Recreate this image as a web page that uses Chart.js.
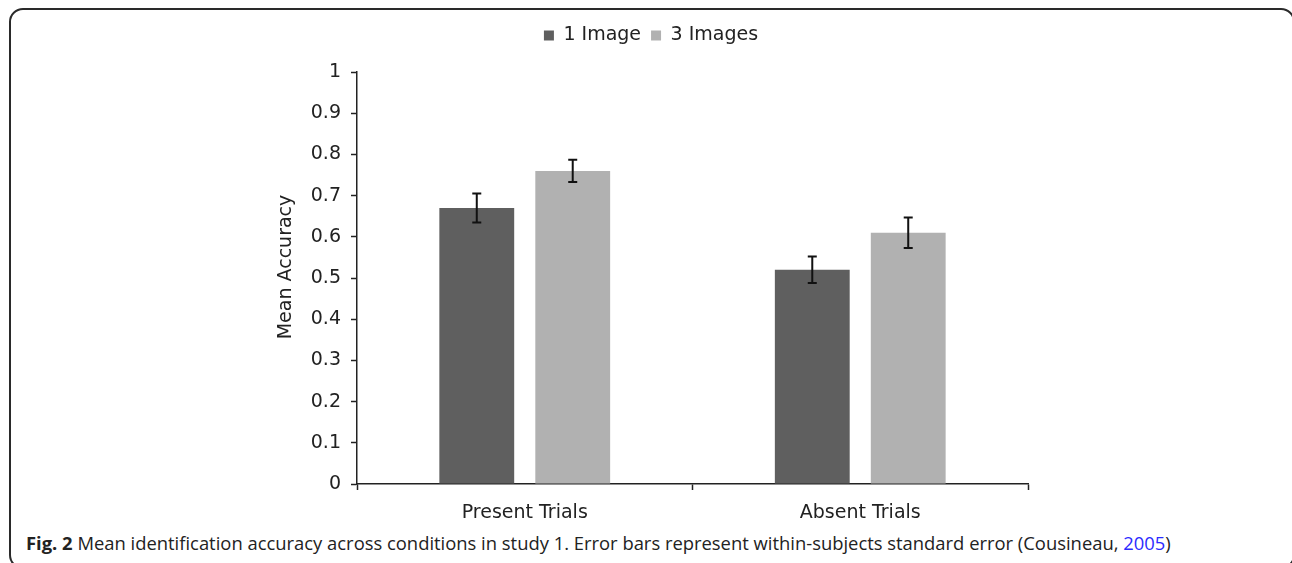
<!DOCTYPE html>
<html>
<head>
<meta charset="utf-8">
<script src="https://cdn.jsdelivr.net/npm/chart.js@4.4.1/dist/chart.umd.min.js"></script>
<style>
  html, body { margin: 0; padding: 0; background: #fff; width: 1292px; height: 563px; overflow: hidden; }
  #frame {
    position: absolute; left: 9px; top: 8px; width: 1282px; height: 557px;
    border: 2px solid #2a2a2a; border-radius: 14px; box-sizing: content-box;
  }
  #wrap { position: absolute; left: 10px; top: 10px; width: 1282px; height: 520px; }
  #caption {
    position: absolute; left: 26px; top: 530px; white-space: nowrap;
    font-family: "Open Sans", sans-serif; font-size: 18.4px; color: #222;
  }
  #caption b { font-weight: 700; }
  #caption .ref { color: #2b2bff; }
</style>
</head>
<body>
<div id="frame"></div>
<div id="wrap"><canvas id="chart"></canvas></div>
<div id="caption"><b>Fig. 2</b> Mean identification accuracy across conditions in study 1. Error bars represent within-subjects standard error (Cousineau, <span class="ref">2005</span>)</div>
<script>
// Trial types and mean accuracy per display condition
const categories = ["Present Trials", "Absent Trials"];
const oneImage = [0.67, 0.52];
const threeImages = [0.76, 0.61];
// Within-subjects standard errors
const oneImageSE = [0.035, 0.032];
const threeImagesSE = [0.027, 0.037];
const yTicks = [0, 0.1, 0.2, 0.3, 0.4, 0.5, 0.6, 0.7, 0.8, 0.9, 1];
const yTitle = "Mean Accuracy";

const FONT = "'DejaVu Sans', Verdana, sans-serif";
const FSIZE = 19;

// Draws a vertical error bar with caps over every bar
const errorBars = {
  id: 'errorBars',
  afterDatasetsDraw(chart) {
    const ctx = chart.ctx;
    const y = chart.scales.y;
    ctx.save();
    ctx.strokeStyle = '#111';
    ctx.lineWidth = 2;
    chart.data.datasets.forEach((ds, di) => {
      const meta = chart.getDatasetMeta(di);
      meta.data.forEach((bar, i) => {
        const v = ds.data[i], e = ds.errors[i];
        const top = y.getPixelForValue(v + e);
        const bot = y.getPixelForValue(v - e);
        const cap = 4.5;
        ctx.beginPath();
        ctx.moveTo(bar.x, top); ctx.lineTo(bar.x, bot);
        ctx.moveTo(bar.x - cap, top); ctx.lineTo(bar.x + cap, top);
        ctx.moveTo(bar.x - cap, bot); ctx.lineTo(bar.x + cap, bot);
        ctx.stroke();
      });
    });
    ctx.restore();
  }
};

// Vertical axis title, set a little above the plot's middle
const axisTitle = {
  id: 'axisTitle',
  afterDraw(chart) {
    const { ctx, chartArea, scales } = chart;
    const x = scales.y.left + 12;
    const y = (chartArea.top + chartArea.bottom) / 2 - 11;
    ctx.save();
    ctx.translate(x, y);
    ctx.rotate(-Math.PI / 2);
    ctx.font = `${FSIZE}px ${FONT}`;
    ctx.fillStyle = '#222';
    ctx.textAlign = 'center';
    ctx.textBaseline = 'middle';
    ctx.fillText(yTitle, 0, 0);
    ctx.restore();
  }
};

// Adds space between the legend and the plot
const legendGap = {
  id: 'legendGap',
  beforeInit(chart) {
    const fit = chart.legend.fit;
    chart.legend.fit = function () {
      fit.bind(chart.legend)();
      this.height += 17;
    };
  }
};

new Chart(document.getElementById('chart'), {
  type: 'bar',
  data: {
    labels: categories,
    datasets: [
      { label: '1 Image', data: oneImage, errors: oneImageSE, backgroundColor: '#5f5f5f' },
      { label: '3 Images', data: threeImages, errors: threeImagesSE, backgroundColor: '#b1b1b1' }
    ]
  },
  options: {
    responsive: true,
    maintainAspectRatio: false,
    animation: false,
    datasets: { bar: { categoryPercentage: 0.572, barPercentage: 0.78 } },
    layout: { padding: { left: 264, right: 264, top: 6, bottom: 6 } },
    plugins: {
      legend: {
        position: 'top',
        labels: {
          boxWidth: 10, boxHeight: 10, padding: 10,
          color: '#222',
          font: { family: FONT, size: FSIZE }
        }
      },
      tooltip: { enabled: false }
    },
    scales: {
      x: {
        grid: { offset: true, drawOnChartArea: false, tickLength: 6, color: '#222', tickWidth: 1.5 },
        border: { color: '#222', width: 1.5 },
        ticks: { color: '#222', padding: 12, font: { family: FONT, size: FSIZE } },
        afterFit(s) { s.height = 40; }
      },
      y: {
        min: 0, max: 1,
        afterBuildTicks(s) { s.ticks = yTicks.map(v => ({ value: v })); },
        grid: { drawOnChartArea: false, tickLength: 6, color: '#222', tickWidth: 1.5 },
        border: { color: '#222', width: 1.5 },
        ticks: {
          color: '#222', padding: 10, font: { family: FONT, size: FSIZE },
          callback: v => String(v)
        },
        title: { display: false },
        afterFit(s) { s.width = 83; }
      }
    }
  },
  plugins: [errorBars, axisTitle, legendGap]
});
</script>
</body>
</html>
